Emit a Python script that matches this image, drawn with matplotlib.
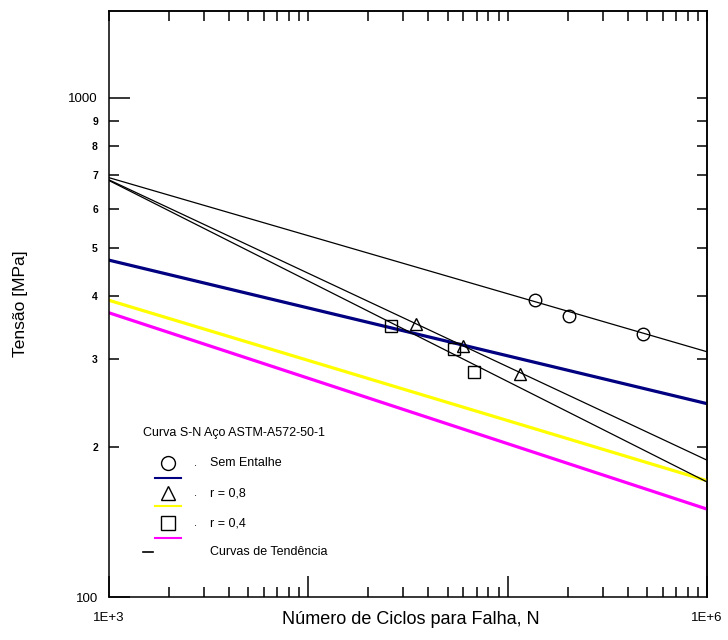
import matplotlib
matplotlib.use("Agg")
import matplotlib.pyplot as plt
from matplotlib.ticker import FixedLocator, FixedFormatter, NullFormatter

plt.rcParams['font.family'] = ['Liberation Sans', 'DejaVu Sans']

# trend lines (ends at N = 1E+3 and 1E+6)
n_ends = [1e3, 1e6]
s_sem_entalhe = [692, 310]
s_r08 = [685, 188]
s_r04 = [683, 170]
s_blue = [473, 244]
s_yellow = [393, 171]
s_magenta = [371, 150]

# test points
n_circ = [1.37e5, 2.04e5, 4.77e5]
s_circ = [393, 366, 337]
n_tri = [3.45e4, 6.0e4, 1.15e5]
s_tri = [353, 318, 280]
n_sq = [2.6e4, 5.4e4, 6.8e4]
s_sq = [349, 314, 282]

y_major = [100, 1000]
y_major_lbl = ['100', '1000']
y_minor = [200, 300, 400, 500, 600, 700, 800, 900]
y_minor_lbl = ['2', '3', '4', '5', '6', '7', '8', '9']
x_major = [1e3, 1e4, 1e5, 1e6]
x_major_lbl = ['1E+3', '', '', '1E+6']
x_minor = [m * 10 ** e for e in (3, 4, 5) for m in range(2, 10)]

fig = plt.figure(figsize=(7.28, 6.4), dpi=100)
ax = fig.add_axes([109 / 728, 1 - 597 / 640, 598 / 728, 586 / 640])
ax.set_xscale('log')
ax.set_yscale('log')
ax.set_xlim(1e3, 1e6)
ax.set_ylim(100, 1493)

# thick coloured lines
ax.plot(n_ends, s_blue, color='#000080', lw=2.3)
ax.plot(n_ends, s_yellow, color='#ffff00', lw=2.3)
ax.plot(n_ends, s_magenta, color='#ff00ff', lw=2.3)
# trend lines
ax.plot(n_ends, s_sem_entalhe, color='black', lw=0.9)
ax.plot(n_ends, s_r08, color='black', lw=0.9)
ax.plot(n_ends, s_r04, color='black', lw=0.9)
# markers
ax.plot(n_circ, s_circ, ls='none', marker='o', ms=9, mfc='none', mec='black', mew=1)
ax.plot(n_tri, s_tri, ls='none', marker='^', ms=8.5, mfc='none', mec='black', mew=1)
ax.plot(n_sq, s_sq, ls='none', marker='s', ms=8.5, mfc='none', mec='black', mew=1)

# ticks
ax.yaxis.set_major_locator(FixedLocator(y_major))
ax.yaxis.set_major_formatter(FixedFormatter(y_major_lbl))
ax.yaxis.set_minor_locator(FixedLocator(y_minor))
ax.yaxis.set_minor_formatter(FixedFormatter(y_minor_lbl))
ax.xaxis.set_major_locator(FixedLocator(x_major))
ax.xaxis.set_major_formatter(FixedFormatter(x_major_lbl))
ax.xaxis.set_minor_locator(FixedLocator(x_minor))
ax.xaxis.set_minor_formatter(NullFormatter())

ax.tick_params(which='major', direction='in', length=15, width=1.1, labelsize=9.5)
ax.tick_params(axis='y', which='major', pad=8)
ax.tick_params(axis='x', which='major', pad=11)
ax.tick_params(which='minor', direction='in', length=7, width=1.1)
ax.tick_params(axis='y', which='minor', labelsize=7.5, pad=8)
for t in ax.yaxis.get_minorticklabels():
    t.set_fontweight('bold')

# top and right: short ticks only
top = ax.secondary_xaxis('top')
top.xaxis.set_major_locator(FixedLocator(x_minor + x_major))
top.xaxis.set_major_formatter(NullFormatter())
top.xaxis.set_minor_locator(FixedLocator([]))
top.tick_params(which='both', direction='in', length=7, width=1.1)
right = ax.secondary_yaxis('right')
right.yaxis.set_major_locator(FixedLocator(y_minor + [1000]))
right.yaxis.set_major_formatter(NullFormatter())
right.yaxis.set_minor_locator(FixedLocator([]))
right.tick_params(which='both', direction='in', length=7, width=1.1)

for sp in list(ax.spines.values()) + [top.spines['top'], right.spines['right']]:
    sp.set_linewidth(1.1)

ax.set_ylabel('Tensão [MPa]', fontsize=12.5)
ax.yaxis.set_label_coords(-0.135, 0.5)
ax.set_xlabel('Número de Ciclos para Falha, N', fontsize=13)
ax.xaxis.set_label_coords(0.505, -0.024)

# legend drawn by hand
tr = ax.transAxes
ax.text(0.057, 0.280, 'Curva S-N Aço ASTM-A572-50-1', transform=tr, fontsize=9, va='center', ha='left')
leg = [('o', '#000080', 'Sem Entalhe', 0.229, 0.203),
       ('^', '#ffff00', 'r = 0,8', 0.177, 0.155),
       ('s', '#ff00ff', 'r = 0,4', 0.126, 0.101)]
for mk, col, lbl, ym, yl in leg:
    ax.plot([0.099], [ym], transform=tr, marker=mk, ms=10, mfc='none', mec='black', mew=1, ls='none')
    ax.plot([0.077, 0.120], [yl, yl], transform=tr, color=col, lw=1.5)
    ax.text(0.144, ym, '.', transform=tr, fontsize=8, va='center', ha='center')
    ax.text(0.169, ym, lbl, transform=tr, fontsize=9, va='center', ha='left')
ax.plot([0.057, 0.074], [0.077, 0.077], transform=tr, color='black', lw=1.2)
ax.text(0.169, 0.077, 'Curvas de Tendência', transform=tr, fontsize=9, va='center', ha='left')

fig.savefig('out.png', dpi=100)
